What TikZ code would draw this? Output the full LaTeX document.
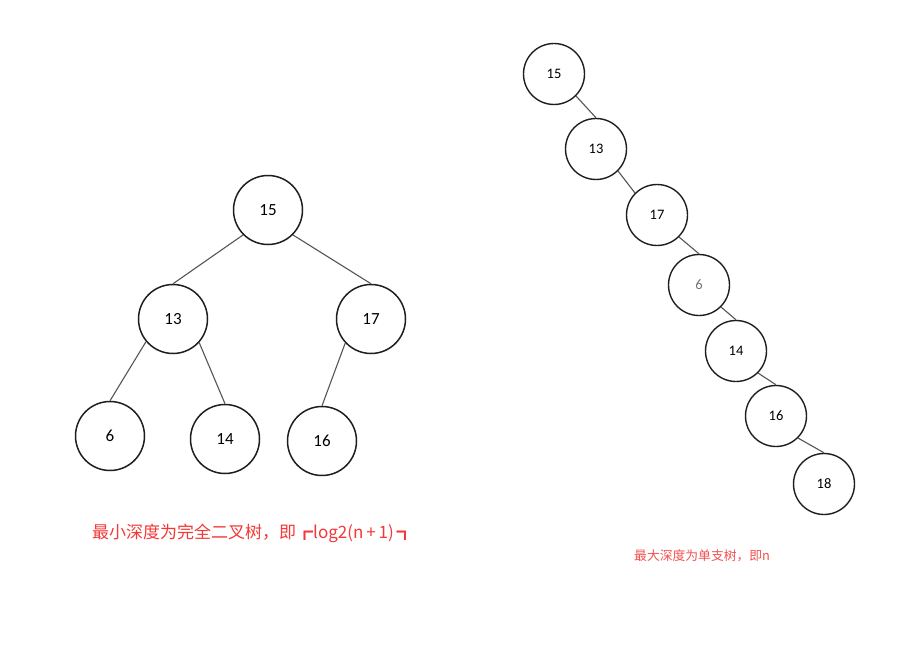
\documentclass[tikz,border=0pt]{standalone}
\usepackage{fontspec}
\setmainfont{Carlito}
\newfontfamily\cjk{Noto Sans CJK SC}
\definecolor{capred}{RGB}{245,55,55}
\definecolor{capred2}{RGB}{245,80,80}
\definecolor{edgegray}{RGB}{85,85,85}
\definecolor{ringdark}{RGB}{30,30,30}
\begin{document}
\begin{tikzpicture}[x=1pt,y=-1pt,
  bignode/.style={circle,draw=ringdark,line width=1.5pt,minimum size=69pt,inner sep=0pt,font=\fontsize{17}{19}\selectfont,text=black},
  smallnode/.style={circle,draw=ringdark,line width=1.4pt,minimum size=61pt,inner sep=0pt,font=\fontsize{14.5}{16}\selectfont,text=black},
  edge/.style={draw=edgegray,line width=1.1pt},
  caption/.style={font=\cjk\fontsize{17}{20}\selectfont,text=capred,anchor=west,inner sep=0pt},
  caption2/.style={font=\cjk\fontsize{12.8}{15}\selectfont,text=capred2,anchor=west,inner sep=0pt}]
\fill[white] (0,0) rectangle (912,658);
\useasboundingbox (0,0) rectangle (912,658);
% left tree
\node[bignode] (a15) at (268,210) {15};
\node[bignode] (a13) at (173,319) {13};
\node[bignode] (a17) at (371,319) {17};
\node[bignode] (a6)  at (110,436) {6};
\node[bignode] (a14) at (225,439) {14};
\node[bignode] (a16) at (322,441) {16};
\draw[edge] (a15.225) -- (a13.north);
\draw[edge] (a15.315) -- (a17.north);
\draw[edge] (a13.220) -- (a6.north);
\draw[edge] (a13.318) -- (a14.north);
\draw[edge] (a17.223) -- (a16.north);
\node[caption] (c1) at (92,533) {最小深度为完全二叉树，即┏log2(n\,+\,1)\,┓};
% right tree
\node[smallnode] (b15) at (554,74) {15};
\node[smallnode] (b13) at (596,149) {13};
\node[smallnode] (b17) at (657,215) {17};
\node[smallnode,text=black!55] (b6) at (699,285) {6};
\node[smallnode] (b14) at (736,351) {14};
\node[smallnode] (b16) at (776,416) {16};
\node[smallnode] (b18) at (824,484) {18};
\draw[edge] (b15.315) -- (b13.north);
\draw[edge] (b13.315) -- (b17.135);
\draw[edge] (b17.315) -- (b6.north);
\draw[edge] (b6.315) -- (b14.north);
\draw[edge] (b14.315) -- (b16.north);
\draw[edge] (b16.315) -- (b18.north);
\node[caption2] (c2) at (634,556) {最大深度为单支树，即n};
\end{tikzpicture}
\end{document}
